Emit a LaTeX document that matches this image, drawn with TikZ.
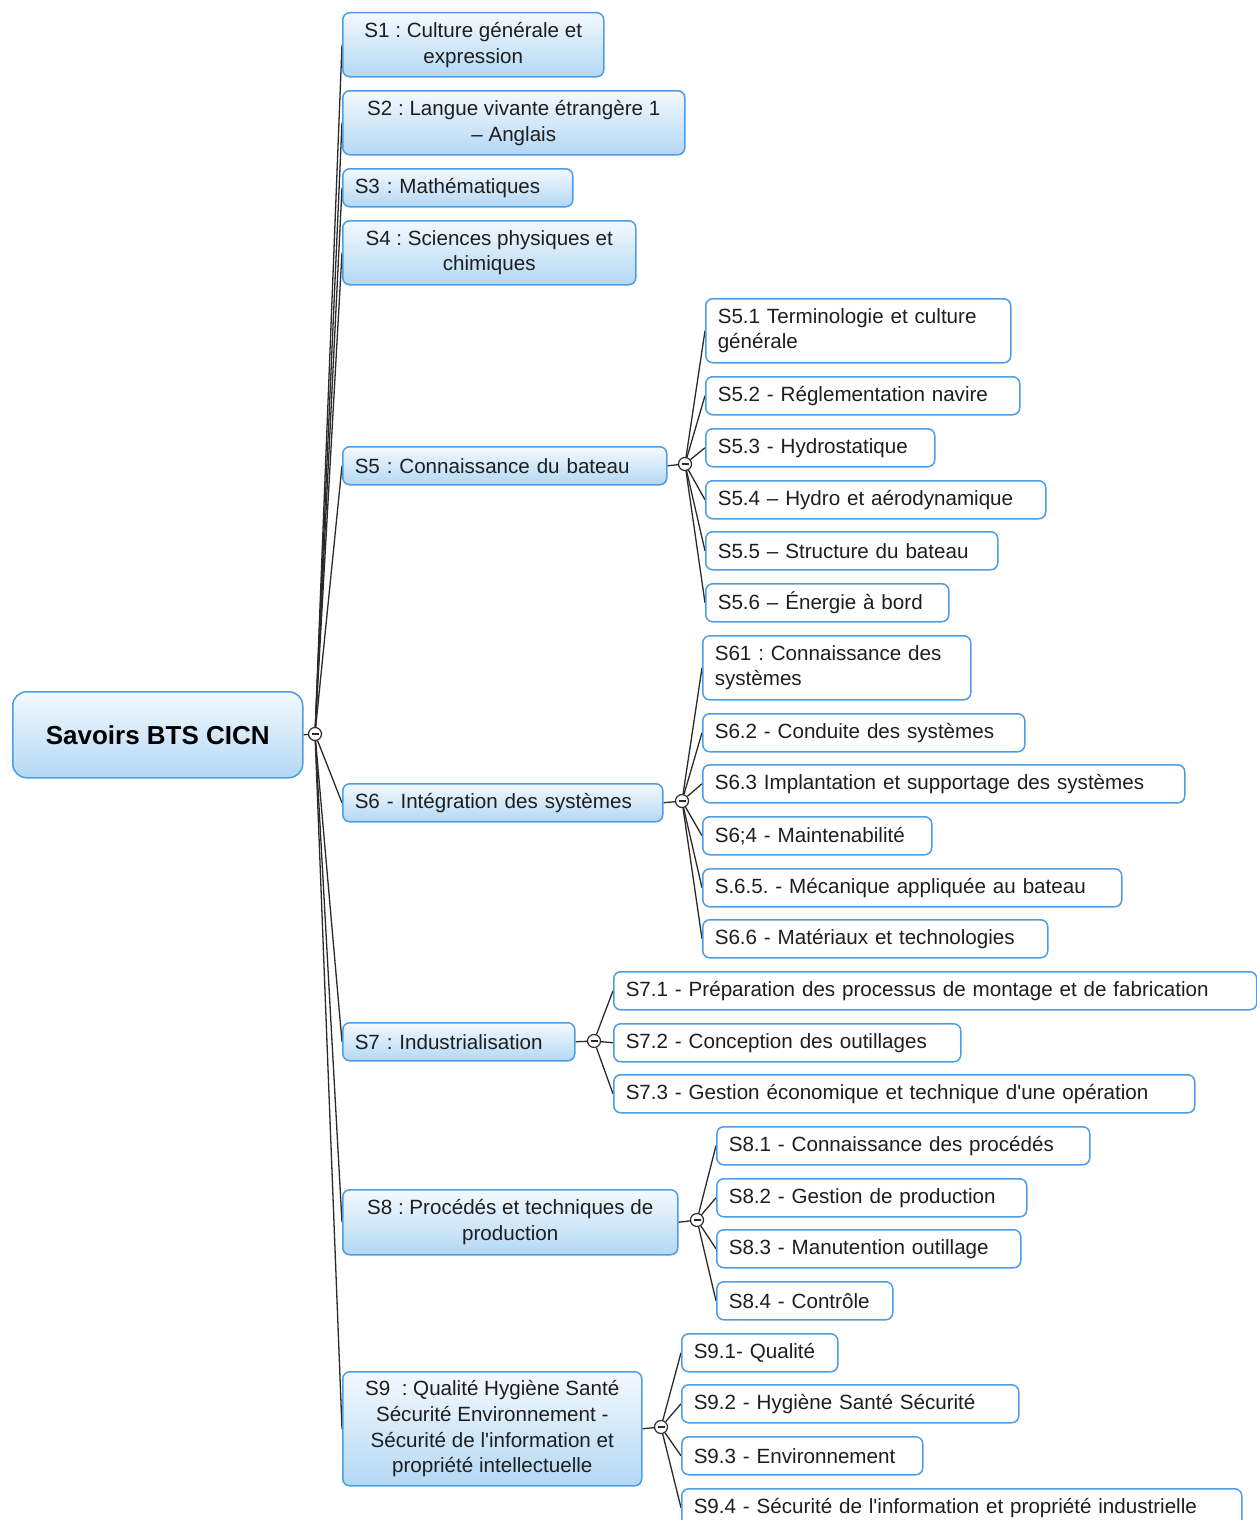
\documentclass[tikz,border=0pt]{standalone}
\usepackage{fontspec}
\setmainfont{Liberation Sans}
\newfontfamily\mf{Liberation Sans}
\usetikzlibrary{backgrounds}
\definecolor{bordc}{HTML}{4C9DE8}
\definecolor{topc}{HTML}{F4F9FE}
\definecolor{botc}{HTML}{B3D8F4}
\definecolor{txt}{HTML}{1E1E1E}
\definecolor{linec}{HTML}{2A2A2A}
\newcommand{\fs}{\mf\frenchspacing\fontsize{20.6}{25.7}\selectfont}
\begin{document}
\begin{tikzpicture}[x=1pt,y=-1pt,
  base/.style={rectangle, rounded corners=7pt, draw=bordc, line width=1.5pt, font=\fs, text=txt,
    inner xsep=12pt, inner ysep=0pt, anchor=north west},
  mainc/.style n args={3}{base, top color=topc, bottom color=botc, minimum width=#1 pt, minimum height=#2 pt, align=center},
  mainl/.style n args={3}{base, top color=topc, bottom color=botc, text width=#3 pt, minimum height=#2 pt, align=left},
  leaf/.style n args={3}{base, fill=white, text width=#3 pt, minimum height=#2 pt, align=left},
  rootbox/.style={rectangle, rounded corners=14pt, draw=bordc, line width=1.5pt, top color=topc, bottom color=botc,
    font=\mf\fontsize{26}{30}\selectfont\bfseries, text=black, minimum width=290pt, minimum height=86pt, anchor=north west, inner sep=0pt},
  tog/.style={circle, draw=linec, fill=white, line width=1.2pt, minimum size=13pt, inner sep=0pt,
    path picture={\draw[line width=1.2pt, linec] ([xshift=-3.5pt]path picture bounding box.center) -- ([xshift=3.5pt]path picture bounding box.center);}},
  conn/.style={draw=linec, line width=1.3pt},
]
\useasboundingbox (0,0) rectangle (1257,1520);
\clip (0,0) rectangle (1257,1520);

% root
\node[rootbox] (root) at (12,691) {Savoirs BTS CICN};
\node[tog] (rc) at (315,734) {};

% main topics
\node[mainc={261}{64}{}] (s1) at (342,12) {S1 : Culture générale et\\expression};
\node[mainc={342}{64}{}] (s2) at (342,90) {S2 : Langue vivante étrangère 1\\– Anglais};
\node[mainl={230}{38}{206}] (s3) at (342,168) {S3 : Mathématiques};
\node[mainc={293}{64}{}] (s4) at (342,220) {S4 : Sciences physiques et\\chimiques};
\node[mainl={324}{38}{300}] (s5) at (342,446) {S5 : Connaissance du bateau};
\node[mainl={320}{38}{296}] (s6) at (342,783) {S6 - Intégration des systèmes};
\node[mainl={232}{38}{208}] (s7) at (342,1022) {S7 : Industrialisation};
\node[mainc={335}{65}{}] (s8) at (342,1189) {S8 : Procédés et techniques de\\production};
\node[mainc={299}{114}{}] (s9) at (342,1371) {S9\ \ : Qualité Hygiène Santé\\Sécurité Environnement -\\Sécurité de l'information et\\propriété intellectuelle};

\node[tog] (c5) at (685,464) {};
\node[tog] (c6) at (682,801) {};
\node[tog] (c7) at (594,1041) {};
\node[tog] (c8) at (697,1220) {};
\node[tog] (c9) at (661,1427) {};

% S5 children
\node[leaf={305}{64}{281}] (s51) at (705,298) {S5.1 Terminologie et culture\\générale};
\node[leaf={314}{38}{290}] (s52) at (705,376) {S5.2 - Réglementation navire};
\node[leaf={229}{38}{205}] (s53) at (705,428) {S5.3 - Hydrostatique};
\node[leaf={340}{38}{316}] (s54) at (705,480) {S5.4 – Hydro et aérodynamique};
\node[leaf={292}{38}{268}] (s55) at (705,531) {S5.5 – Structure du bateau};
\node[leaf={243}{38}{219}] (s56) at (705,583) {S5.6 – Énergie à bord};

% S6 children
\node[leaf={268}{64}{244}] (s61) at (702,635) {S61 : Connaissance des\\systèmes};
\node[leaf={322}{38}{298}] (s62) at (702,713) {S6.2 - Conduite des systèmes};
\node[leaf={482}{38}{458}] (s63) at (702,764) {S6.3 Implantation et supportage des systèmes};
\node[leaf={229}{38}{205}] (s64) at (702,816) {S6;4 - Maintenabilité};
\node[leaf={419}{38}{395}] (s65) at (702,868) {S.6.5. - Mécanique appliquée au bateau};
\node[leaf={345}{38}{321}] (s66) at (702,919) {S6.6 - Matériaux et technologies};

% S7 children
\node[leaf={643}{38}{619}] (s71) at (613,971) {S7.1 - Préparation des processus de montage et de fabrication};
\node[leaf={347}{38}{323}] (s72) at (613,1023) {S7.2 - Conception des outillages};
\node[leaf={581}{38}{557}] (s73) at (613,1074) {S7.3 - Gestion économique et technique d'une opération};

% S8 children
\node[leaf={373}{38}{349}] (s81) at (716,1126) {S8.1 - Connaissance des procédés};
\node[leaf={310}{38}{286}] (s82) at (716,1178) {S8.2 - Gestion de production};
\node[leaf={304}{38}{280}] (s83) at (716,1229) {S8.3 - Manutention outillage};
\node[leaf={176}{38}{152}] (s84) at (716,1281) {S8.4 - Contrôle};

% S9 children
\node[leaf={156}{38}{132}] (s91) at (681,1333) {S9.1- Qualité};
\node[leaf={337}{38}{313}] (s92) at (681,1384) {S9.2 - Hygiène Santé Sécurité};
\node[leaf={241}{38}{217}] (s93) at (681,1436) {S9.3 - Environnement};
\node[leaf={560}{38}{536}] (s94) at (681,1488) {S9.4 - Sécurité de l'information et propriété industrielle};

\begin{scope}[on background layer]
  \draw[conn] (root.east) -- (rc);
  \foreach \n in {s1,s2,s3,s4,s5,s6,s7,s8,s9} \draw[conn] (rc) -- (\n.west);
  \draw[conn] (s5.east) -- (c5);
  \foreach \n in {s51,s52,s53,s54,s55,s56} \draw[conn] (c5) -- (\n.west);
  \draw[conn] (s6.east) -- (c6);
  \foreach \n in {s61,s62,s63,s64,s65,s66} \draw[conn] (c6) -- (\n.west);
  \draw[conn] (s7.east) -- (c7);
  \foreach \n in {s71,s72,s73} \draw[conn] (c7) -- (\n.west);
  \draw[conn] (s8.east) -- (c8);
  \foreach \n in {s81,s82,s83,s84} \draw[conn] (c8) -- (\n.west);
  \draw[conn] (s9.east) -- (c9);
  \foreach \n in {s91,s92,s93,s94} \draw[conn] (c9) -- (\n.west);
\end{scope}
\end{tikzpicture}
\end{document}
